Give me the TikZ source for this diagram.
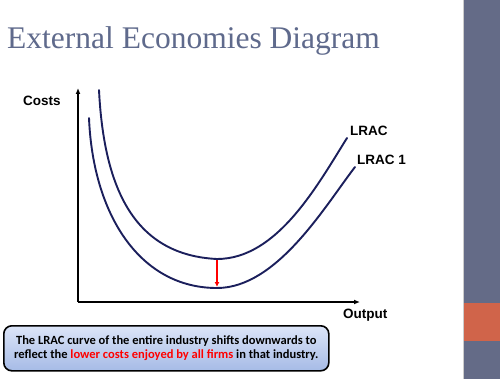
\documentclass[tikz,border=0pt]{standalone}
\usepackage{fontspec}
\setmainfont{Liberation Serif}
\newfontfamily\arialb[BoldFont={Liberation Sans Bold}]{Liberation Sans}
\newfontfamily\calib{Carlito}
\usetikzlibrary{arrows.meta,shadings}
\definecolor{titlecol}{HTML}{5F6A8C}
\definecolor{bandcol}{HTML}{646B87}
\definecolor{orangecol}{HTML}{D0644A}
\definecolor{curvecol}{HTML}{1B1F5C}
\definecolor{boxtop}{HTML}{DCE5F8}
\definecolor{boxbot}{HTML}{A6BBE6}
\pgfdeclareradialshading{slidebg}{\pgfpoint{0bp}{0bp}}{color(0bp)=(white); color(30bp)=(white); color(50bp)=(black!9); color(70bp)=(black!14)}
\tikzset{
  curve/.style={draw=curvecol, line width=1.9pt, line cap=round},
  axis/.style={draw=black, line width=1.6pt, -{Latex[length=6pt,width=5pt]}},
  lbl/.style={font=\arialb\fontsize{13.5}{15}\selectfont\bfseries, inner sep=0pt},
}
\begin{document}
\begin{tikzpicture}[x=1pt,y=-1pt]
\useasboundingbox (0,0) rectangle (500,379);
% background
\begin{scope}
\clip (0,0) rectangle (463,379);
\shade[shading=slidebg] (-30,-60) rectangle (493,439);
\end{scope}
\fill[bandcol] (463,0) rectangle (500,379);
\fill[orangecol] (463,303) rectangle (500,341);
\draw[black!20, line width=0.6pt] (463,0) -- (463,379);
% title
\node[anchor=base west, inner sep=0pt, text=titlecol, font=\fontsize{31.5}{34}\selectfont] (title) at (7,49) {External Economies Diagram};
% axes
\coordinate (origin) at (78,302);
\coordinate (ytop) at (78,88);
\coordinate (xend) at (360,302);
\draw[axis] (origin) -- (ytop);
\draw[axis] (origin) -- (xend);
% curves
\coordinate (u0) at (99,90);
\coordinate (umin) at (217,259);
\coordinate (u1) at (347,138);
\coordinate (l0) at (89,118);
\coordinate (lmin) at (217,288);
\coordinate (l1) at (355,167);
\draw[curve] (u0) .. controls (104,190) and (135,255) .. (umin)
                  .. controls (277,259) and (317,186) .. (u1);
\draw[curve] (l0) .. controls (93,215) and (140,288) .. (lmin)
                  .. controls (277,288) and (325,206) .. (l1);
% shift arrow
\coordinate (up) at (217,260);
\coordinate (down) at (217,287);
\draw[red, line width=1.6pt, -{Latex[length=5pt,width=5pt]}] (up) -- (down);
% labels
\node[lbl, anchor=west] (costs) at (23,101) {Costs};
\node[lbl, anchor=west] (lrac) at (350,131) {LRAC};
\node[lbl, anchor=west] (lrac1) at (357,160) {LRAC 1};
\node[lbl, anchor=west] (output) at (343,315) {Output};
% box
\node[draw=black, line width=1.6pt, rounded corners=8pt, top color=boxtop, bottom color=boxbot,
  minimum width=325pt, minimum height=45pt, anchor=north west, inner sep=0pt,
  align=center, font=\calib\fontsize{12.5}{14.5}\selectfont\bfseries] (box) at (3,325)
  {The LRAC curve of the entire industry shifts downwards to\\reflect the \textcolor{red}{lower costs enjoyed by all firms} in that industry.};
\end{tikzpicture}
\end{document}
